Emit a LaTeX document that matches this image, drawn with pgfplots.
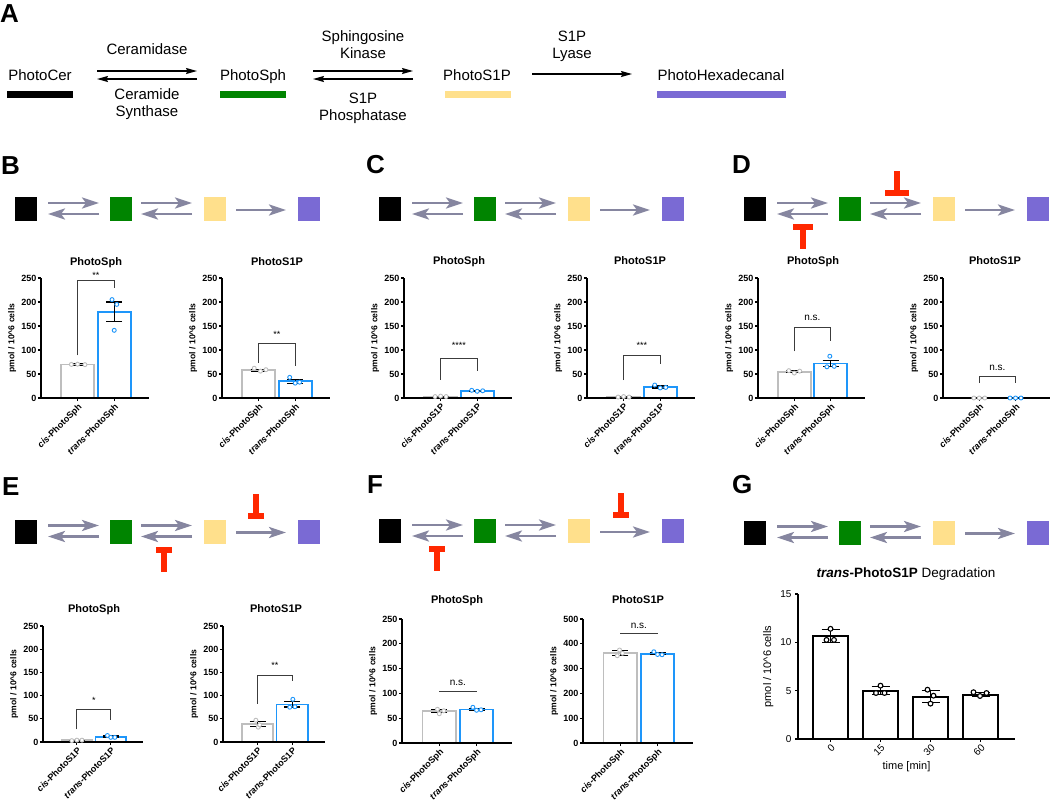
\documentclass[border=0pt]{standalone}
\usepackage{fontspec}
\setmainfont{Liberation Sans}
\usepackage{pgfplots}
\pgfplotsset{compat=1.18}
\usetikzlibrary{arrows.meta}

\definecolor{cGray}{RGB}{190,190,190}
\definecolor{cBlue}{RGB}{30,150,250}
\definecolor{cArrow}{RGB}{134,134,160}
\definecolor{cRed}{RGB}{255,40,0}
\definecolor{cGreen}{RGB}{0,132,0}
\definecolor{cYellow}{RGB}{255,224,140}
\definecolor{cPurple}{RGB}{122,106,212}
\definecolor{cBrk}{RGB}{60,60,60}

\newcommand{\fs}[1]{\fontsize{#1}{#1}\selectfont}

\pgfplotsset{
  sub/.style={
    scale only axis, anchor=south west,
    axis lines=left, axis line style={-, line width=1.5pt},
    axis on top, clip=false,
    xmin=-1, xmax=1.95, xtick={0,1},
    ymin=0, ymax=250, ytick={0,50,...,250},
    tick align=outside, major tick length=3pt,
    tick style={black, line width=1.2pt},
    ticklabel style={font=\bfseries\fs{9}},
    xticklabel style={rotate=45, anchor=north east, inner sep=1pt},
    yticklabel style={inner sep=1.5pt},
    ylabel={pmol / 10\textasciicircum 6 cells},
    ylabel style={font=\bfseries\fs{8.6}},
    /pgf/number format/assume math mode=true,
  },
  barG/.style={ybar, bar shift=0pt, bar width=0.9, fill=white, draw=cGray, line width=1.8pt},
  barB/.style={ybar, bar shift=0pt, bar width=0.9, fill=white, draw=cBlue, line width=1.8pt},
  ptG/.style={only marks, mark=*, mark size=2pt, mark options={draw=cGray, fill=white, line width=0.9pt}},
  ptB/.style={only marks, mark=*, mark size=2pt, mark options={draw=cBlue, fill=white, line width=0.9pt}},
  brk/.style={color=cBrk, line width=1.2pt, mark=none},
  err/.style={draw=none, mark=none, error bars/.cd, y dir=both, y explicit,
    error bar style={draw=black, line width=1.2pt},
    error mark options={draw=black, line width=1.2pt, mark size=#1, rotate=90}},
  err/.default=8pt,
}
\tikzset{
  star/.style={font=\fs{9}},
  ns/.style={font=\fs{10}},
  aA/.style={black, line width=1.3pt, -{Stealth[length=11pt, width=6pt, inset=1.5pt]}},
  aS/.style={cArrow, line width=2.6pt, -{Stealth[length=17pt, width=11pt, inset=4pt]}},
  ttl/.style={anchor=base, font=\bfseries\fs{11}},
  lett/.style={anchor=base west, inner sep=0pt, font=\bfseries\fs{26}},
}

% pathway sketch: #1 left of black square, #2 vertical centre (both in px, y down)
\newcommand{\scheme}[2]{%
  \begin{scope}[shift={(#1,#2)}]
    \fill[black] (0,-12) rectangle (22,12);
    \fill[cGreen] (95,-12) rectangle (117,12);
    \fill[cYellow] (189,-12) rectangle (211,12);
    \fill[cPurple] (283,-12) rectangle (305,12);
    \draw[aS] (33,-6) -- (84,-6);
    \draw[aS] (84,5) -- (33,5);
    \draw[aS] (126,-6) -- (177,-6);
    \draw[aS] (177,5) -- (126,5);
    \draw[aS] (221,1) -- (271,1);
  \end{scope}}
% inhibitor from above / below: x centre, scheme centre y, half width of bar
\newcommand{\inhabove}[3]{%
  \fill[cRed] ({#1-3},{#2-38}) rectangle ({#1+3},{#2-18});
  \fill[cRed] ({#1-#3},{#2-19}) rectangle ({#1+#3},{#2-13});}
\newcommand{\inhbelow}[3]{%
  \fill[cRed] ({#1-#3},{#2+15}) rectangle ({#1+#3},{#2+21});
  \fill[cRed] ({#1-3},{#2+20}) rectangle ({#1+3},{#2+40});}

\begin{document}
\begin{tikzpicture}
\useasboundingbox (0pt,0pt) rectangle (1050pt,-804pt);

\begin{scope}[x=1pt, y=-1pt]
% ---- A ----
\node[lett] at (0,22) {A};
\begin{scope}[font=\fs{15}]
\node[anchor=base] at (40,80) {PhotoCer};
\node[anchor=base] at (253,80) {PhotoSph};
\node[anchor=base] at (477,80) {PhotoS1P};
\node[anchor=base] at (721,80) {PhotoHexadecanal};
\node[anchor=base] at (147,54) {Ceramidase};
\node[anchor=base] at (147,99) {Ceramide};
\node[anchor=base] at (147,116) {Synthase};
\node[anchor=base] at (363,41) {Sphingosine};
\node[anchor=base] at (363,58) {Kinase};
\node[anchor=base] at (363,103) {S1P};
\node[anchor=base] at (363,120) {Phosphatase};
\node[anchor=base] at (572,41) {S1P};
\node[anchor=base] at (572,58) {Lyase};
\end{scope}
\fill[black] (7,91) rectangle (73,98);
\fill[cGreen] (220,91) rectangle (286,98);
\fill[cYellow] (445,91) rectangle (511,98);
\fill[cPurple] (657,91) rectangle (786,98);
\draw[aA] (97,71) -- (197,71);
\draw[aA] (197,79) -- (97,79);
\draw[aA] (313,71) -- (413,71);
\draw[aA] (413,79) -- (313,79);
\draw[aA] (532,74) -- (632,74);

% ---- letters, sketches, titles ----
\node[lett] at (1,174) {B};
\node[lett] at (366,173) {C};
\node[lett] at (732,173) {D};
\node[lett] at (2,495) {E};
\node[lett] at (367,493) {F};
\node[lett] at (732,493) {G};

\scheme{15}{209}
\scheme{379}{209}
\scheme{744}{209}
\inhabove{897}{209}{12}
\inhbelow{803}{209}{10}
\scheme{15}{531.5}
\inhabove{256}{531.5}{8}
\inhbelow{164}{531.5}{8}
\scheme{379}{531}
\inhbelow{437}{531}{8}
\inhabove{621}{531}{8}
\scheme{744}{532.5}

\node[ttl] at (96,265) {PhotoSph};
\node[ttl] at (277,265) {PhotoS1P};
\node[ttl] at (459,264) {PhotoSph};
\node[ttl] at (640,264) {PhotoS1P};
\node[ttl] at (813,264) {PhotoSph};
\node[ttl] at (995,264) {PhotoS1P};
\node[ttl] at (94,612) {PhotoSph};
\node[ttl] at (276,612) {PhotoS1P};
\node[ttl] at (457,603) {PhotoSph};
\node[ttl] at (638,603) {PhotoS1P};
\node[anchor=base, font=\fs{13.5}] at (906,577)
  {\textbf{\textit{trans}-PhotoS1P} Degradation};
\end{scope}

% ---- B ----
\begin{axis}[sub, at={(41pt,-398pt)}, width=108pt, height=120pt,
  xticklabels={\textit{cis}-PhotoSph, \textit{trans}-PhotoSph}]
\addplot[barG] coordinates {(0,70)};
\addplot[barB] coordinates {(1,180)};
\addplot[err] coordinates {(0,70) +- (0,1.5) (1,180) +- (0,20)};
\addplot[ptG] coordinates {(-0.17,70) (0,70.5) (0.2,69.5)};
\addplot[ptB] coordinates {(0.94,205) (1.07,195) (1.0,141)};
\addplot[brk] coordinates {(0,89) (0,244) (1,244) (1,229)};
\node[star] at (axis cs:0.5,256) {**};
\end{axis}
\begin{axis}[sub, at={(222pt,-398pt)}, width=108pt, height=120pt,
  xticklabels={\textit{cis}-PhotoSph, \textit{trans}-PhotoSph}]
\addplot[barG] coordinates {(0,58)};
\addplot[barB] coordinates {(1,35)};
\addplot[err] coordinates {(0,58) +- (0,2) (1,35) +- (0,4)};
\addplot[ptG] coordinates {(-0.12,62) (0.05,56) (0.2,59)};
\addplot[ptB] coordinates {(0.85,43) (1.0,31) (1.12,33)};
\addplot[brk] coordinates {(0,73) (0,114) (1,114) (1,66)};
\node[star] at (axis cs:0.5,133) {**};
\end{axis}

% ---- C ----
\begin{axis}[sub, at={(404pt,-398pt)}, width=108pt, height=120pt,
  xticklabels={\textit{cis}-PhotoS1P, \textit{trans}-PhotoS1P}]
\addplot[barG] coordinates {(0,3)};
\addplot[barB] coordinates {(1,14)};
\addplot[err] coordinates {(0,3) +- (0,0.5) (1,14) +- (0,1)};
\addplot[ptG] coordinates {(-0.15,3) (0,4) (0.15,3)};
\addplot[ptB] coordinates {(0.85,16) (1.0,14) (1.15,15)};
\addplot[brk] coordinates {(0,38) (0,82) (1,82) (1,56)};
\node[star] at (axis cs:0.5,110) {****};
\end{axis}
\begin{axis}[sub, at={(587pt,-398pt)}, width=108pt, height=120pt,
  xticklabels={\textit{cis}-PhotoS1P, \textit{trans}-PhotoS1P}]
\addplot[barG] coordinates {(0,2)};
\addplot[barB] coordinates {(1,23)};
\addplot[err] coordinates {(0,2) +- (0,0.5) (1,23) +- (0,2)};
\addplot[ptG] coordinates {(-0.15,2) (0,3) (0.15,2)};
\addplot[ptB] coordinates {(0.85,27) (1.0,21) (1.15,22)};
\addplot[brk] coordinates {(0,37) (0,89) (1,89) (1,70)};
\node[star] at (axis cs:0.5,110) {***};
\end{axis}

% ---- D ----
\begin{axis}[sub, at={(758pt,-398pt)}, width=107pt, height=120pt,
  xticklabels={\textit{cis}-PhotoSph, \textit{trans}-PhotoSph}]
\addplot[barG] coordinates {(0,55)};
\addplot[barB] coordinates {(1,72)};
\addplot[err] coordinates {(0,55) +- (0,1.5) (1,72) +- (0,6.5)};
\addplot[ptG] coordinates {(-0.15,57) (0,52) (0.15,56)};
\addplot[ptB] coordinates {(0.98,87) (0.9,65) (1.1,66)};
\addplot[brk] coordinates {(0,97) (0,147) (1,147) (1,118)};
\node[ns] at (axis cs:0.5,167) {n.s.};
\end{axis}
\begin{axis}[sub, at={(943pt,-398pt)}, width=107pt, height=120pt,
  xticklabels={\textit{cis}-PhotoSph, \textit{trans}-PhotoSph}]
\addplot[barG] coordinates {(0,0)};
\addplot[barB] coordinates {(1,0)};
\addplot[ptG] coordinates {(-0.15,0) (0,0) (0.15,0)};
\addplot[ptB] coordinates {(0.85,0) (1.0,0) (1.15,0)};
\addplot[brk] coordinates {(0,31) (0,44) (1,44) (1,31)};
\node[ns] at (axis cs:0.5,62) {n.s.};
\end{axis}

% ---- E ----
\begin{axis}[sub, at={(43pt,-742pt)}, width=100pt, height=116pt,
  xticklabels={\textit{cis}-PhotoS1P, \textit{trans}-PhotoS1P}]
\addplot[barG] coordinates {(0,3.5)};
\addplot[barB] coordinates {(1,11.5)};
\addplot[err] coordinates {(0,3.5) +- (0,0.5) (1,11.5) +- (0,1.5)};
\addplot[ptG] coordinates {(-0.15,3) (0,4) (0.15,4)};
\addplot[ptB] coordinates {(0.9,14) (1.0,10) (1.12,10)};
\addplot[brk] coordinates {(0,27) (0,70) (1,70) (1,47)};
\node[star] at (axis cs:0.5,89) {*};
\end{axis}
\begin{axis}[sub, at={(223pt,-742pt)}, width=102pt, height=116pt,
  xticklabels={\textit{cis}-PhotoS1P, \textit{trans}-PhotoS1P}]
\addplot[barG] coordinates {(0,38.5)};
\addplot[barB] coordinates {(1,81)};
\addplot[err] coordinates {(0,38.5) +- (0,5) (1,81) +- (0,5.5)};
\addplot[ptG] coordinates {(-0.05,47) (0.02,32) (0.06,37)};
\addplot[ptB] coordinates {(1.02,92) (0.93,75) (1.08,76)};
\addplot[brk] coordinates {(0,82) (0,143) (1,143) (1,132)};
\node[star] at (axis cs:0.5,165) {**};
\end{axis}

% ---- F ----
\begin{axis}[sub, at={(402pt,-743pt)}, width=110pt, height=124pt,
  xticklabels={\textit{cis}-PhotoSph, \textit{trans}-PhotoSph}]
\addplot[barG] coordinates {(0,64)};
\addplot[barB] coordinates {(1,67.5)};
\addplot[err] coordinates {(0,64) +- (0,3) (1,67.5) +- (0,2)};
\addplot[ptG] coordinates {(-0.05,68) (0,59) (0.12,65)};
\addplot[ptB] coordinates {(0.9,72) (1.0,66) (1.12,67)};
\addplot[brk] coordinates {(0,104) (1,104)};
\node[ns] at (axis cs:0.5,121) {n.s.};
\end{axis}
\begin{axis}[sub, at={(583pt,-743pt)}, width=110pt, height=124pt,
  ymax=500, ytick={0,100,...,500},
  xticklabels={\textit{cis}-PhotoSph, \textit{trans}-PhotoSph}]
\addplot[barG] coordinates {(0,363)};
\addplot[barB] coordinates {(1,360)};
\addplot[err] coordinates {(0,363) +- (0,10) (1,360) +- (0,4)};
\addplot[ptG] coordinates {(-0.02,375) (-0.08,352) (0.06,362)};
\addplot[ptB] coordinates {(0.9,368) (1.0,357) (1.12,356)};
\addplot[brk] coordinates {(0,443) (1,443)};
\node[ns] at (axis cs:0.5,473) {n.s.};
\end{axis}

% ---- G ----
\begin{axis}[scale only axis, anchor=south west, at={(798pt,-739pt)},
  width=217pt, height=145pt,
  axis lines=left, axis line style={-, line width=1.5pt},
  axis on top, clip=false,
  xmin=-0.65, xmax=3.69, ymin=0, ymax=15,
  xtick={0,1,2,3}, xticklabels={0,15,30,60}, ytick={0,5,10,15},
  tick align=outside, major tick length=3pt,
  tick style={black, line width=1.2pt},
  ticklabel style={font=\fs{10}},
  xticklabel style={rotate=45, anchor=north east, inner sep=1pt},
  xlabel={time [min]}, ylabel={pmol / 10\textasciicircum 6 cells},
  label style={font=\fs{11}},
  /pgf/number format/assume math mode=true]
\addplot[ybar, bar shift=0pt, bar width=0.7, fill=white, draw=black, line width=2pt]
  coordinates {(0,10.63) (1,4.95) (2,4.35) (3,4.6)};
\addplot[err=9pt] coordinates {(0,10.65) +- (0,0.65) (1,5.0) +- (0,0.43)
  (2,4.4) +- (0,0.65) (3,4.63) +- (0,0.2)};
\addplot[only marks, mark=*, mark size=2.4pt,
  mark options={draw=black, fill=white, line width=1.1pt}]
  coordinates {(0,11.4) (-0.08,10.25) (0.07,10.25)
               (1,5.52) (0.91,4.76) (1.08,4.76)
               (1.94,5.1) (2.06,4.48) (2.0,3.66)
               (2.86,4.84) (2.99,4.45) (3.12,4.76)};
\end{axis}
\end{tikzpicture}
\end{document}
